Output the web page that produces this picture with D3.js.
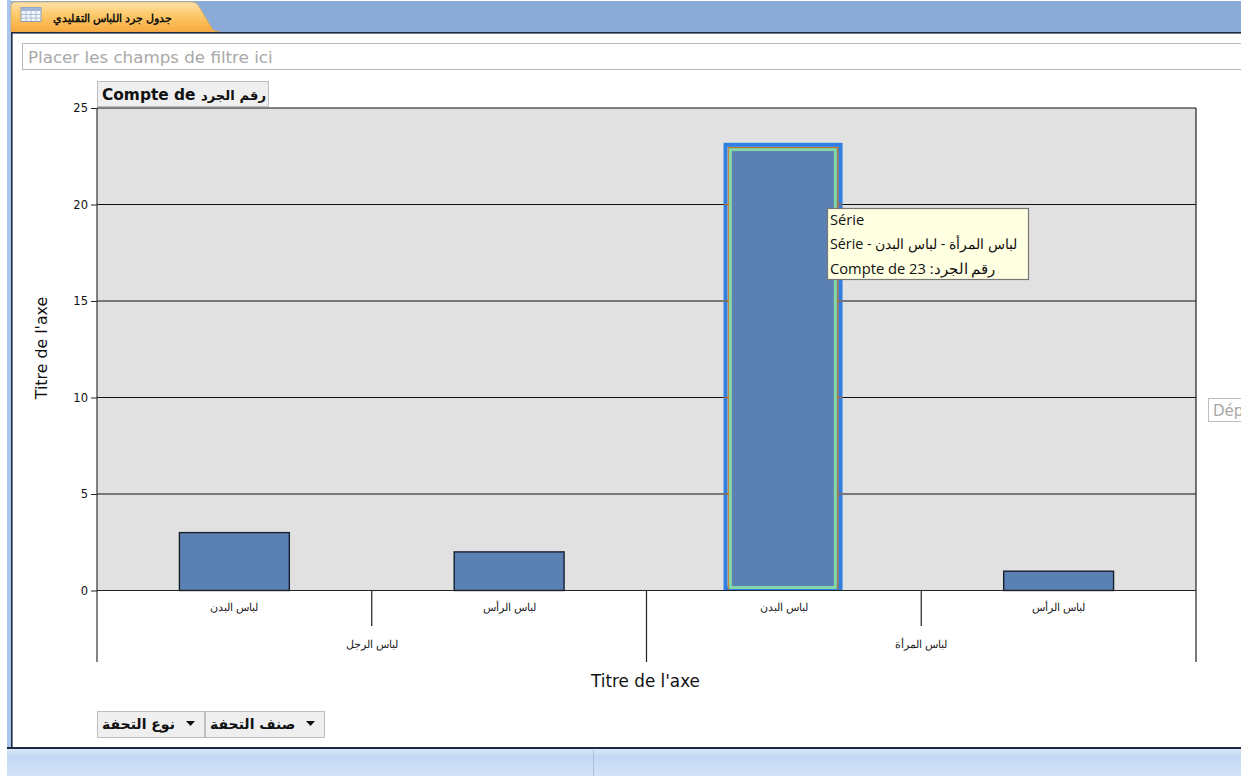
<!DOCTYPE html>
<html><head><meta charset="utf-8">
<script src="https://cdn.jsdelivr.net/npm/d3@7/dist/d3.min.js"></script>
<style>html,body{margin:0;padding:0;background:#fff;overflow:hidden}svg{display:block}</style>
</head><body><svg id="c" width="1244" height="776"></svg>
<script>
const items = ["لباس البدن","لباس الرأس","لباس البدن","لباس الرأس"];
const groups = ["لباس الرجل","لباس المرأة"];
const groupOf = [0,0,1,1];
const values = [3,2,23,1];
const yTicks = [0,5,10,15,20,25];
const selectedIndex = 2;
const tabTitle = "جدول جرد اللباس التقليدي";
const filterText = "Placer les champs de filtre ici";
const dataFieldLatin = "Compte de ";
const dataFieldArabic = "رقم الجرد";
const axisTitle = "Titre de l'axe";
const dropText = "Dép";
const rowFields = ["نوع التحفة","صنف التحفة"];
const tooltipLines = ["Série","لباس المرأة - لباس البدن - Série","رقم الجرد: Compte de 23"];

const W=1241, UI='"DejaVu Sans",sans-serif', TIP='"Open Sans","Noto Sans",sans-serif', SMALL='"Liberation Sans",Arial,sans-serif', BOLD='"DejaVu Sans",sans-serif';
const svg=d3.select("#c");
const defs=svg.append("defs");
function grad(id,stops){const g=defs.append("linearGradient").attr("id",id).attr("x1",0).attr("x2",0).attr("y1",0).attr("y2",1);
  stops.forEach(s=>g.append("stop").attr("offset",s[0]).attr("stop-color",s[1]));}
grad("tabG",[[0,"#fde3a8"],[.45,"#fcc868"],[1,"#f9a93f"]]);
grad("botG",[[0,"#d6e6f8"],[.3,"#c3d9f5"],[1,"#d3e3f8"]]);

// window chrome
svg.append("rect").attr("x",7).attr("y",0).attr("width",W-7).attr("height",776).attr("fill","#fff");
svg.append("rect").attr("x",7).attr("y",0).attr("width",4).attr("height",750).attr("fill","#a9c6ee");
svg.append("rect").attr("x",11).attr("y",1).attr("width",W-11).attr("height",31).attr("fill","#8aaad8");
svg.append("path").attr("d","M11,32 V6 Q11,2 16,2 H192 Q197,2 200,8 L213,30 L220,32 Z").attr("fill","url(#tabG)").attr("stroke","#c9a25f").attr("stroke-width",.6);
svg.append("rect").attr("x",11).attr("y",32).attr("width",W-11).attr("height",1.6).attr("fill","#1f2a3f");
svg.append("rect").attr("x",11).attr("y",32).attr("width",1.6).attr("height",716).attr("fill","#1f2a3f");
svg.append("rect").attr("x",7).attr("y",747).attr("width",W-7).attr("height",2).attr("fill","#1f2a3f");
svg.append("rect").attr("x",7).attr("y",749).attr("width",W-7).attr("height",27).attr("fill","url(#botG)");
svg.append("rect").attr("x",593).attr("y",750).attr("width",1).attr("height",26).attr("fill","#a9bfdc");

// tab icon
const ic=svg.append("g");
ic.append("rect").attr("x",21).attr("y",7.5).attr("width",20).attr("height",14).attr("fill","#f3f6fb").attr("stroke","#8d9db8");
ic.append("rect").attr("x",21).attr("y",7.5).attr("width",20).attr("height",3.5).attr("fill","#9fb4d6");
[26,31,36].forEach(x=>ic.append("line").attr("x1",x).attr("x2",x).attr("y1",8).attr("y2",21).attr("stroke","#aebcd4"));
[14.5,18].forEach(y=>ic.append("line").attr("x1",21).attr("x2",41).attr("y1",y).attr("y2",y).attr("stroke","#aebcd4"));
svg.append("text").attr("x",172).attr("y",21.5).attr("direction","rtl").attr("font-family",SMALL).attr("font-size",11).attr("font-weight","bold").attr("fill","#111").text(tabTitle);

// filter area
svg.append("rect").attr("x",22.5).attr("y",43.5).attr("width",W-20).attr("height",26).attr("fill","#fff").attr("stroke","#b8b8b8");
svg.append("text").attr("x",28).attr("y",62.5).attr("font-family",UI).attr("font-size",16.7).attr("fill","#a8a8a8").text(filterText);

// chart
const m={l:97,r:1196,t:108,b:590.5,ax:662};
const x=d3.scaleBand().domain(d3.range(items.length)).range([m.l,m.r]).paddingInner(.6).paddingOuter(.3);
const y=d3.scaleLinear().domain([0,25]).range([m.b,m.t]);
svg.append("rect").attr("x",m.l).attr("y",m.t).attr("width",m.r-m.l).attr("height",m.b-m.t).attr("fill","#e1e1e1");

const yAxis=d3.axisLeft(y).tickValues(yTicks).tickSize(6).tickPadding(3);
const yg=svg.append("g").attr("transform",`translate(${m.l},0)`).call(yAxis);
yg.select(".domain").remove();
yg.selectAll("line").attr("stroke","#222");
yg.selectAll("text").attr("font-family",UI).attr("font-size",11.5).attr("fill","#111");

svg.append("g").selectAll("line").data(yTicks).join("line")
  .attr("x1",m.l).attr("x2",m.r).attr("y1",d=>y(d)).attr("y2",d=>y(d)).attr("stroke","#111").attr("stroke-width",1.2);
svg.append("line").attr("x1",m.l).attr("x2",m.l).attr("y1",m.t).attr("y2",m.ax).attr("stroke","#333").attr("stroke-width",1.2);
svg.append("line").attr("x1",m.r).attr("x2",m.r).attr("y1",m.t).attr("y2",m.ax).attr("stroke","#222").attr("stroke-width",1.2);

// bars
svg.append("g").selectAll("rect").data(values).join("rect")
  .attr("x",(d,i)=>x(i)).attr("width",x.bandwidth()).attr("y",d=>y(d)).attr("height",d=>y(0)-y(d))
  .attr("fill","#5b80b3").attr("stroke",(d,i)=>i===selectedIndex?"none":"#16202e").attr("stroke-width",1.4);

// selection on the selected bar
const sx=x(selectedIndex), sw=x.bandwidth(), sy=y(values[selectedIndex]), y0=y(0);
const sel=svg.append("g").attr("fill","none");
sel.append("rect").attr("x",sx-3.4).attr("y",sy-1.8).attr("width",sw+5.1).attr("height",y0-2-(sy-1.8)).attr("stroke","#2f7fe0").attr("stroke-width",4);
sel.append("rect").attr("x",sx+1.5).attr("y",sy+3).attr("width",sw-5).attr("height",y0-3-(sy+3)).attr("stroke","#84d6a6").attr("stroke-width",3);
sel.append("rect").attr("x",sx-.6).attr("y",sy+1).attr("width",sw-.4).attr("height",y0-sy-1).attr("stroke","#c8781e").attr("stroke-width",1);
yTicks.filter(t=>t>0&&t<values[selectedIndex]).forEach(t=>{
  [[sx-5.4,4.5],[sx+sw-.6,3.7]].forEach(p=>svg.append("rect").attr("x",p[0]).attr("y",y(t)-.6).attr("width",p[1]).attr("height",1.2).attr("fill","#b5651d"));
});

// multi-level category axis
svg.append("line").attr("x1",m.l).attr("x2",m.r).attr("y1",y0).attr("y2",y0).attr("stroke","#222").attr("stroke-width",1.2);
sel.append("line").attr("x1",sx-.6).attr("x2",sx+sw-1).attr("y1",y0).attr("y2",y0).attr("stroke","#c8781e").attr("stroke-width",1.2);
const bandStep=x.step();
const groupIdx=groups.map((g,gi)=>d3.range(items.length).filter(i=>groupOf[i]===gi));
const mid=i=>x(i)+x.bandwidth()/2;
const groupCenter=g=>(mid(g[0])+mid(g[g.length-1]))/2;
svg.append("g").selectAll("line").data(groupIdx).join("line")
  .attr("x1",groupCenter).attr("x2",groupCenter).attr("y1",y0).attr("y2",626).attr("stroke","#222").attr("stroke-width",1.2);
svg.append("line").attr("x1",mid(1)+bandStep/2).attr("x2",mid(1)+bandStep/2).attr("y1",y0).attr("y2",m.ax).attr("stroke","#222").attr("stroke-width",1.2);
svg.append("g").selectAll("text").data(items).join("text")
  .attr("x",(d,i)=>mid(i)).attr("y",611).attr("text-anchor","middle").attr("font-family",SMALL).attr("font-size",11.2).attr("fill","#222").text(d=>d);
svg.append("g").selectAll("text").data(groups).join("text")
  .attr("x",(d,i)=>groupCenter(groupIdx[i])).attr("y",647.5).attr("text-anchor","middle").attr("font-family",SMALL).attr("font-size",11.2).attr("fill","#222").text(d=>d);

// axis titles
svg.append("text").attr("x",645.5).attr("y",686.5).attr("text-anchor","middle").attr("font-family",UI).attr("font-size",16.8).attr("fill","#111").text(axisTitle);
svg.append("text").attr("transform","translate(47,348) rotate(-90)").attr("text-anchor","middle").attr("font-family",UI).attr("font-size",15.8).attr("fill","#111").text(axisTitle);

// data field button
svg.append("rect").attr("x",97.5).attr("y",81.5).attr("width",171).attr("height",25).attr("fill","#efefef").attr("stroke","#bdbdbd");
const df=svg.append("text").attr("x",102).attr("y",99.5).attr("font-family",BOLD).attr("font-weight","bold").attr("fill","#111");
df.append("tspan").attr("font-size",15.4).text(dataFieldLatin);
df.append("tspan").attr("font-size",13.2).text(dataFieldArabic);

// drop zone on the right
svg.append("rect").attr("x",1208.5).attr("y",398.5).attr("width",W-1208).attr("height",23).attr("fill","#fff").attr("stroke","#bdbdbd");
svg.append("text").attr("x",1213).attr("y",416).attr("font-family",UI).attr("font-size",15).attr("fill","#a8a8a8").text(dropText);

// row field buttons
[[97,107,186],[205,119,306]].forEach((b,i)=>{
  const g=svg.append("g");
  g.append("rect").attr("x",b[0]+.5).attr("y",711.5).attr("width",b[1]).attr("height",26).attr("fill","#efefef").attr("stroke","#bdbdbd");
  g.append("path").attr("d",`M${b[2]},721 h9 l-4.5,5 Z`).attr("fill","#111");
  g.append("text").attr("x",b[0]+5).attr("y",729).attr("font-family",BOLD).attr("font-size",14).attr("font-weight","bold").attr("fill","#111").text(rowFields[i]);
});

// tooltip
const tip=svg.append("g");
tip.append("rect").attr("x",827.5).attr("y",208.5).attr("width",201).attr("height",71).attr("fill","#ffffe1").attr("stroke","#777").attr("stroke-width",1.2);
tooltipLines.forEach((t,i)=>tip.append("text").attr("x",830).attr("y",225+i*24.3).attr("direction",i?"rtl":"ltr").attr("text-anchor",i?"end":"start").attr("font-family",TIP).attr("font-size",i==1?14.3:14.7).attr("fill","#111").text(t));

// right edge of the screenshot
svg.append("rect").attr("x",W).attr("y",0).attr("width",1244-W).attr("height",776).attr("fill","#fff");
</script></body></html>
